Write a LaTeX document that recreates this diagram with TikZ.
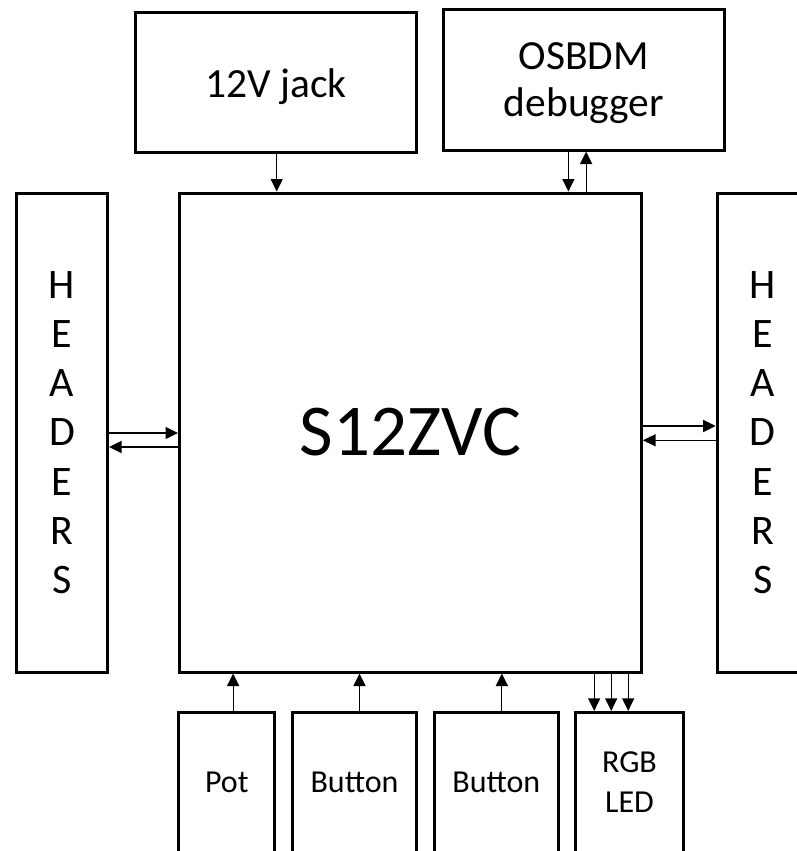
\documentclass[tikz,border=0pt]{standalone}
\usepackage{fontspec}
\setmainfont{Carlito}
\usetikzlibrary{positioning, arrows.meta}
\tikzset{
  block/.style = {rectangle, draw=black, line width=3pt, minimum width=281pt,
                  minimum height=140pt, inner sep=0pt, align=center, text depth=0pt,
                  font=\fontsize{41.5}{47}\selectfont},
  chip/.style  = {rectangle, draw=black, line width=3pt, minimum width=462pt,
                  minimum height=479pt, inner sep=0pt,
                  font=\fontsize{73}{88}\selectfont},
  hdr/.style   = {rectangle, draw=black, line width=3pt, minimum width=91pt,
                  minimum height=479pt, inner sep=0pt, align=center,
                  font=\fontsize{42}{49.2}\selectfont},
  io/.style    = {rectangle, draw=black, line width=3pt, minimum height=140pt,
                  inner sep=0pt, align=center, font=\fontsize{32}{40}\selectfont},
  ar/.style    = {-{Triangle[length=12.5pt,width=12pt]}, line width=1.2pt, draw=black},
}
\begin{document}
\begin{tikzpicture}
  \useasboundingbox (0,0) rectangle (797pt,-851pt);

  % Microcontroller and headers
  \node[chip] (mcu) at (410.5pt,-432.5pt) {S12ZVC};
  \node[hdr, left=69pt of mcu]  (hdrL) {H\\E\\A\\D\\E\\R\\S};
  \node[hdr, right=72.7pt of mcu] (hdrR) {H\\E\\A\\D\\E\\R\\S};

  % Top blocks
  \node[block, above=37.4pt of mcu.north, xshift=-134.3pt] (jack) {12V jack};
  \node[block, right=23.7pt of jack, yshift=2.6pt, text depth=-8pt] (bdm) {OSBDM\\debugger};

  % Bottom peripherals
  \node[io, minimum width=96pt, below=37.4pt of mcu.south west, anchor=north west,
        xshift=-0.7pt] (pot) {Pot};
  \node[io, minimum width=124pt, right=14.7pt of pot]  (btnA) {Button};
  \node[io, minimum width=123.7pt, right=15pt of btnA] (btnB) {Button};
  \node[io, minimum width=108.6pt, right=14pt of btnB] (rgb)  {RGB\\LED};

  % Arrows
  \draw[ar] ([xshift=0.5pt]jack.south) -- ([xshift=0.5pt]jack.south |- mcu.north);
  \draw[ar] ([xshift=-15.5pt]bdm.south) -- ([xshift=-15.5pt]bdm.south |- mcu.north);
  \draw[ar] ([xshift=2.2pt]bdm.south |- mcu.north) -- ([xshift=2.2pt]bdm.south);

  \draw[ar] ([yshift=-0.5pt]hdrL.east) -- ([yshift=-0.5pt]hdrL.east -| mcu.west);
  \draw[ar] ([yshift=-14.5pt]hdrL.east -| mcu.west) -- ([yshift=-14.5pt]hdrL.east);
  \draw[ar] ([yshift=6.5pt]mcu.east) -- ([yshift=6.5pt]mcu.east -| hdrR.west);
  \draw[ar] ([yshift=-7.8pt]hdrR.west) -- ([yshift=-7.8pt]hdrR.west -| mcu.east);

  \draw[ar] ([xshift=6.3pt]pot.north) -- ([xshift=6.3pt]pot.north |- mcu.south);
  \draw[ar] ([xshift=5pt]btnA.north) -- ([xshift=5pt]btnA.north |- mcu.south);
  \draw[ar] ([xshift=5.5pt]btnB.north) -- ([xshift=5.5pt]btnB.north |- mcu.south);
  \foreach \dx in {-35.3,-18.3,-1.3}
    \draw[ar] ([xshift=\dx pt]rgb.north |- mcu.south) -- ([xshift=\dx pt]rgb.north);

\end{tikzpicture}
\end{document}
